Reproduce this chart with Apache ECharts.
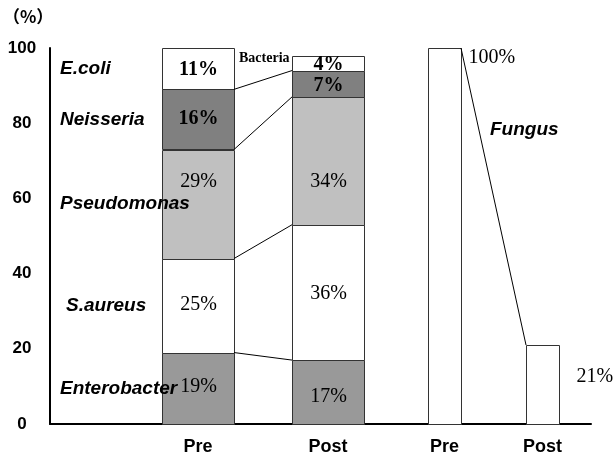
<!DOCTYPE html>
<html><head><meta charset="utf-8">
<script src="https://cdn.jsdelivr.net/npm/echarts@6/dist/echarts.min.js"></script>
<style>html,body{margin:0;padding:0;background:#fff}#chart{width:616px;height:459px}</style>
</head><body><div id="chart"></div>
<script>
// Data
const categories = ['Pre', 'Post', 'Pre', 'Post'];
const species = ['Enterobacter', 'S.aureus', 'Pseudomonas', 'Neisseria', 'E.coli'];
const bacteriaPre = [19, 25, 29, 16, 11];
const bacteriaPost = [17, 36, 34, 7, 4];
const fungusValues = [100, 21];
const yTicks = [0, 20, 40, 60, 80, 100];

// Layout: slot centres and bar widths in x-axis units (the axis spans 0..10)
const slotCenter = [2.736, 5.139, 7.292, 9.104];
const slotWidth = [1.33, 1.33, 0.61, 0.61];
const speciesLabelX = 0.185;
// vertical nudges (px) for the percentage labels inside each stack
const labelShift = [[-3, -3, -24, -2, 0], [3, 0, 19, 0, 0]];
const fills = ['#999999', '#ffffff', '#c0c0c0', '#808080', '#ffffff'];
const boldValue = [false, false, false, true, true];
const SERIF = '"Liberation Serif", "Times New Roman", serif';
const SANS = '"Liberation Sans", Arial, sans-serif';

function stack(vals) {
  let acc = 0;
  return vals.map(v => { const s = acc; acc += v; return [s, acc]; });
}
const preStack = stack(bacteriaPre);
const postStack = stack(bacteriaPost);

// segments: [slot, low, high, speciesIndex, value]
const segData = [];
[[bacteriaPre, preStack], [bacteriaPost, postStack]].forEach(([vals, st], slot) => {
  vals.forEach((v, i) => segData.push([slot, st[i][0], st[i][1], i, v]));
});
const fungusData = fungusValues.map((v, k) => [2 + k, 0, v, k, v]);

function slotRect(api, slot, lo, hi) {
  const c = slotCenter[slot], w = slotWidth[slot];
  const p0 = api.coord([c - w / 2, hi]);
  const p1 = api.coord([c + w / 2, lo]);
  return { x: Math.round(p0[0]) + 0.5, y: Math.round(p0[1]) + 0.5,
           width: Math.round(p1[0] - p0[0]), height: Math.round(p1[1] - p0[1]) };
}

function renderSegment(params, api) {
  const slot = api.value(0), lo = api.value(1), hi = api.value(2), sp = api.value(3), v = api.value(4);
  const r = slotRect(api, slot, lo, hi);
  return { type: 'group', children: [
    { type: 'rect', shape: r, style: { fill: fills[sp], stroke: '#333', lineWidth: 1 } },
    { type: 'text', x: r.x + r.width / 2, y: r.y + r.height / 2 + 1 + labelShift[slot][sp],
      style: { text: v + '%', font: (boldValue[sp] ? 'bold ' : '') + '20px ' + SERIF,
               fill: '#000', align: 'center', verticalAlign: 'middle' } }
  ] };
}

function renderFungus(params, api) {
  const slot = api.value(0), hi = api.value(2), k = api.value(3), v = api.value(4);
  const r = slotRect(api, slot, 0, hi);
  const label = k === 0
    ? { x: r.x + r.width + 7, y: r.y - 1, verticalAlign: 'top' }
    : { x: r.x + r.width + 17, y: r.y + r.height / 2 - 8, verticalAlign: 'middle' };
  return { type: 'group', children: [
    { type: 'rect', shape: r, style: { fill: '#fff', stroke: '#333', lineWidth: 1 } },
    { type: 'text', x: label.x, y: label.y,
      style: { text: v + '%', font: '20px ' + SERIF, fill: '#000', align: 'left', verticalAlign: label.verticalAlign } }
  ] };
}

// connectors between the tops of matching segments
const connectorData = [0, 1, 2, 3].map(i => [preStack[i][1], postStack[i][1]]);
function renderConnector(params, api) {
  const a = api.coord([slotCenter[0] + slotWidth[0] / 2, api.value(0)]);
  const b = api.coord([slotCenter[1] - slotWidth[1] / 2, api.value(1)]);
  return { type: 'line', shape: { x1: a[0], y1: a[1], x2: b[0], y2: b[1] }, style: { stroke: '#000', lineWidth: 1 } };
}
function renderFungusConnector(params, api) {
  const a = api.coord([slotCenter[2] + slotWidth[2] / 2, api.value(0)]);
  const b = api.coord([slotCenter[3] - slotWidth[3] / 2, api.value(1)]);
  return { type: 'line', shape: { x1: a[0], y1: a[1], x2: b[0], y2: b[1] }, style: { stroke: '#000', lineWidth: 1 } };
}

// species names beside the Pre stack
const speciesData = preStack.map((s, i) => [speciesLabelX, (s[0] + s[1]) / 2, i]);
function renderSpecies(params, api) {
  const p = api.coord([api.value(0), api.value(1)]);
  const i = api.value(2);
  return { type: 'text', x: p[0] + (i === 1 ? 6 : 0), y: p[1],
    style: { text: species[i], font: 'italic bold 19px ' + SANS, fill: '#000',
             align: 'left', verticalAlign: 'middle' } };
}

// category labels under the axis
const catData = categories.map((c, i) => [i]);
function renderCategory(params, api) {
  const slot = api.value(0);
  const p = api.coord([slotCenter[slot], 0]);
  return { type: 'text', x: p[0], y: p[1] + 23,
    style: { text: categories[slot], font: 'bold 18px ' + SANS, fill: '#000',
             align: 'center', verticalAlign: 'middle' } };
}

const chart = echarts.init(document.getElementById('chart'));
chart.setOption({
  animation: false,
  backgroundColor: '#fff',
  grid: { left: 50, right: 25, top: 48, bottom: 35 },
  xAxis: {
    type: 'value', min: 0, max: 10,
    axisLine: { show: true, onZero: false, lineStyle: { color: '#000', width: 2 } },
    axisTick: { show: false }, axisLabel: { show: false }, splitLine: { show: false }
  },
  yAxis: {
    type: 'value', min: yTicks[0], max: yTicks[yTicks.length - 1], interval: yTicks[1] - yTicks[0],
    axisLine: { show: true, lineStyle: { color: '#000', width: 2 } },
    axisTick: { show: false }, splitLine: { show: false },
    axisLabel: { color: '#000', fontFamily: SANS, fontWeight: 'bold', fontSize: 17, align: 'center', margin: 28 }
  },
  graphic: [
    { type: 'text', left: 3, top: 8,
      style: { text: '（%）', font: 'bold 17px "Noto Sans CJK JP", sans-serif', fill: '#000' } },
    { type: 'text', left: 239, top: 51,
      style: { text: 'Bacteria', font: 'bold 14px ' + SERIF, fill: '#000' } },
    { type: 'text', left: 490, top: 120,
      style: { text: 'Fungus', font: 'italic bold 19px ' + SANS, fill: '#000' } }
  ],
  series: [
    { type: 'custom', renderItem: renderSegment, data: segData, z: 2 },
    { type: 'custom', renderItem: renderFungus, data: fungusData, z: 2 },
    { type: 'custom', renderItem: renderConnector, data: connectorData, z: 3 },
    { type: 'custom', renderItem: renderFungusConnector, data: [[fungusValues[0], fungusValues[1]]], z: 3 },
    { type: 'custom', renderItem: renderSpecies, data: speciesData, z: 4 },
    { type: 'custom', renderItem: renderCategory, data: catData, z: 4, clip: false }
  ]
});
</script>
</body></html>
